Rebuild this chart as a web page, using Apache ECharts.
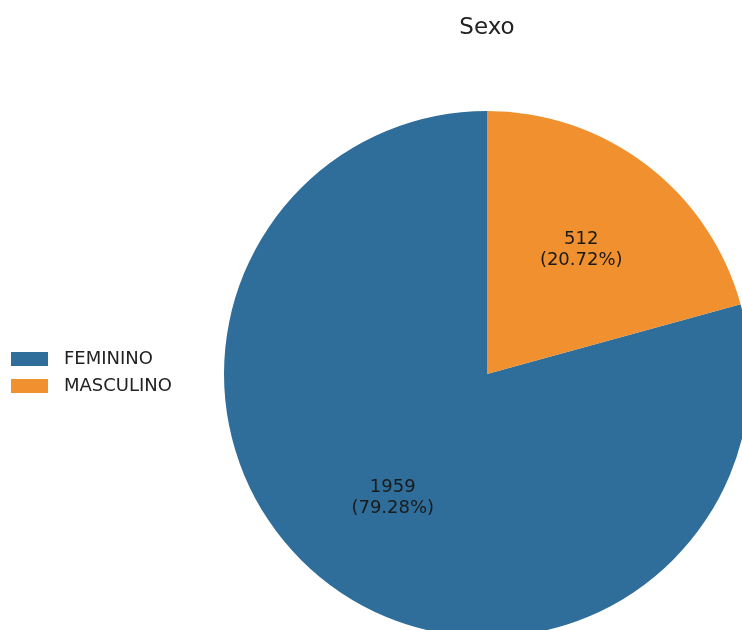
<!DOCTYPE html>
<html>
<head>
<meta charset="utf-8">
<script src="https://cdn.jsdelivr.net/npm/echarts@6/dist/echarts.min.js"></script>
<style>
  html, body { margin: 0; padding: 0; background: #fff; }
  #chart { width: 742px; height: 630px; }
</style>
</head>
<body>
<div id="chart"></div>
<script>
const categories = ['FEMININO', 'MASCULINO'];
const counts = [1959, 512];
const colors = ['#2f6e9a', '#f0902f'];

const total = counts.reduce((a, b) => a + b, 0);
const pieData = categories.map((name, i) => ({ name, value: counts[i] }));

const chart = echarts.init(document.getElementById('chart'));
chart.setOption({
  animation: false,
  color: colors,
  title: {
    text: 'Sexo',
    left: 482,
    top: 12,
    textAlign: 'center',
    textStyle: { fontFamily: 'DejaVu Sans', fontSize: 23, fontWeight: 'normal', color: '#222' }
  },
  legend: {
    orient: 'vertical',
    left: 6,
    top: 345,
    itemWidth: 37,
    itemHeight: 14,
    itemGap: 9,
    icon: 'rect',
    data: categories,
    textStyle: { fontFamily: 'DejaVu Sans', fontSize: 18, color: '#222', padding: [0, 0, 0, 11] }
  },
  series: [
    {
      type: 'pie',
      center: [487, 374],
      radius: [0, 263],
      startAngle: 90,
      clockwise: false,
      data: pieData,
      label: { show: false },
      labelLine: { show: false },
      itemStyle: { borderWidth: 0 }
    },
    {
      // transparent overlay only to place labels at ~0.58 of the radius
      type: 'pie',
      center: [487, 374],
      radius: [0, 305],
      startAngle: 90,
      clockwise: false,
      silent: true,
      data: pieData,
      itemStyle: { color: 'transparent' },
      labelLine: { show: false },
      label: {
        show: true,
        position: 'inside',
        fontFamily: 'DejaVu Sans',
        fontSize: 18,
        lineHeight: 21,
        color: '#1a1a1a',
        formatter: p => p.value + '\n(' + (p.value / total * 100).toFixed(2) + '%)'
      }
    }
  ]
});
</script>
</body>
</html>
